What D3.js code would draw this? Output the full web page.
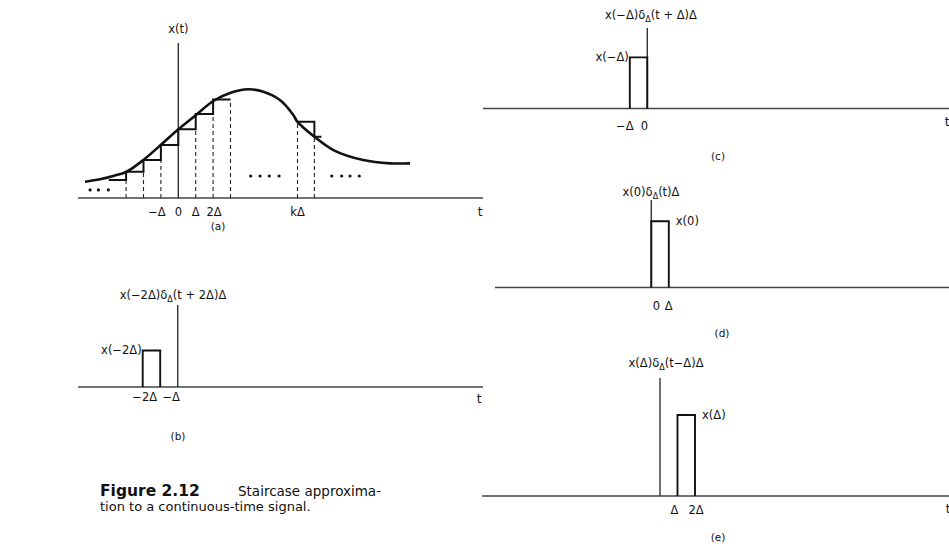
<!DOCTYPE html>
<html>
<head>
<meta charset="utf-8">
<script src="https://cdn.jsdelivr.net/npm/d3@7"></script>
<style>
  body { margin: 0; background: #fff; }
  text { font-family: "DejaVu Sans", "Liberation Sans", Arial, sans-serif; fill: #111; }
</style>
</head>
<body>
<div id="chart"></div>
<script>
// continuous signal x(t), t in units of delta
const curveT = [-5.36, -4.5, -3.74, -2.97, -2.01, -1.01, 0, 1.02, 2.01, 3.01, 4.02, 4.89, 5.84, 6.61, 6.84, 7.82, 8.91, 10.63, 12.17, 13.32];
const curveX = [1.48, 1.70, 2.0, 2.39, 3.45, 4.82, 6.25, 7.55, 8.82, 9.57, 9.88, 9.66, 8.91, 7.55, 6.94, 5.57, 4.36, 3.45, 3.15, 3.15];

// staircase samples x(k delta)
const stepK = [-4, -3, -2, -1, 0, 1, 2];
const stepX = [1.64, 2.39, 3.45, 4.82, 6.25, 7.64, 8.95];
// the step at k delta and the stub after it
const kStepT = [6.85, 7.82];
const kStepX = [6.94, 5.57];

// dots "...."
const dotT = [-5.07, -4.59, -4.02, 4.16, 4.70, 5.23, 5.79, 8.82, 9.39, 9.87, 10.40];
const dotX = [0.73, 0.73, 0.73, 2.0, 2.0, 2.0, 2.0, 2.0, 2.0, 2.0, 2.0];

const tickA = ["\u2212\u0394", "0", "\u0394", "2\u0394", "k\u0394"];
const tickAT = [-1, 0, 1, 2, 6.85];

// single pulses (b)-(e)
const pulseK = [-2, -1, 0, 1];
const pulseNames = ["(b)", "(c)", "(d)", "(e)"];
const pulseTitle = [
  ["x(\u22122\u0394)\u03b4", "\u0394", "(t + 2\u0394)\u0394"],
  ["x(\u2212\u0394)\u03b4", "\u0394", "(t + \u0394)\u0394"],
  ["x(0)\u03b4", "\u0394", "(t)\u0394"],
  ["x(\u0394)\u03b4", "\u0394", "(t\u2212\u0394)\u0394"]
];
const pulseLabel = ["x(\u22122\u0394)", "x(\u2212\u0394)", "x(0)", "x(\u0394)"];
const pulseTicks = [["\u22122\u0394", "\u2212\u0394"], ["\u2212\u0394", "0"], ["0", "\u0394"], ["\u0394", "2\u0394"]];

const W = 949, H = 548;
const DX = 17.4;
const FS = "11.5px";

const svg = d3.select("#chart").append("svg")
  .attr("width", W).attr("height", H)
  .style("background", "#fff");

// ---------- panel (a)
const ox = 178.3, base = 198;
const xA = d3.scaleLinear().domain([0, 1]).range([ox, ox + DX]);
const yA = d3.scaleLinear().domain([0, 1]).range([base, base - 11]);

const gA = svg.append("g");
gA.append("line").attr("x1", 78).attr("x2", 483).attr("y1", base).attr("y2", base)
  .attr("stroke", "#444").attr("stroke-width", 1.4);
gA.append("line").attr("x1", xA(0)).attr("x2", xA(0)).attr("y1", 43).attr("y2", base)
  .attr("stroke", "#333").attr("stroke-width", 1.4);
gA.append("text").attr("x", xA(0)).attr("y", 33).attr("text-anchor", "middle")
  .style("font-size", FS).text("x(t)");
gA.append("text").attr("x", 480).attr("y", 216).attr("text-anchor", "middle")
  .style("font-size", "12px").text("t");

// dashed guides
const dashes = [];
stepK.forEach(function(k, i) {
  if (i > 0 && k !== 0) dashes.push([k, stepX[i - 1]]);
});
dashes.push([3, stepX[stepX.length - 1]]);
dashes.push([kStepT[0], kStepX[0]]);
dashes.push([kStepT[1], kStepX[1]]);
gA.selectAll(".dash").data(dashes).enter().append("line")
  .attr("x1", d => xA(d[0])).attr("x2", d => xA(d[0]))
  .attr("y1", base).attr("y2", d => yA(d[1]))
  .attr("stroke", "#222").attr("stroke-width", 1.1)
  .attr("stroke-dasharray", "4,3");

// staircase
let p = "M" + xA(stepK[0]) + "," + yA(stepX[0]);
stepK.forEach(function(k, i) {
  if (i > 0) p += "L" + xA(k) + "," + yA(stepX[i]);
  p += "L" + xA(k + 1) + "," + yA(stepX[i]);
});
gA.append("path").attr("d", p).attr("fill", "none")
  .attr("stroke", "#111").attr("stroke-width", 2);
const kw = kStepT[1] - kStepT[0];
gA.append("path")
  .attr("d", "M" + xA(kStepT[0]) + "," + yA(kStepX[0]) + "L" + xA(kStepT[1]) + "," + yA(kStepX[0]) +
    "L" + xA(kStepT[1]) + "," + yA(kStepX[1]) + "L" + xA(kStepT[1] + kw * 0.42) + "," + yA(kStepX[1]))
  .attr("fill", "none").attr("stroke", "#111").attr("stroke-width", 2);

// curve
const line = d3.line().x(d => xA(d[0])).y(d => yA(d[1])).curve(d3.curveCatmullRom);
gA.append("path").datum(d3.zip(curveT, curveX)).attr("d", line)
  .attr("fill", "none").attr("stroke", "#111").attr("stroke-width", 2.6);

gA.selectAll(".dot").data(d3.zip(dotT, dotX)).enter().append("circle")
  .attr("cx", d => xA(d[0])).attr("cy", d => yA(d[1])).attr("r", 1.6).attr("fill", "#111");

const tickDx = [-4, 0, 0, 1, 0];
gA.selectAll(".tk").data(tickA).enter().append("text")
  .attr("x", (d, i) => xA(tickAT[i]) + tickDx[i]).attr("y", 216)
  .attr("text-anchor", "middle").style("font-size", FS).text(d => d);
gA.append("text").attr("x", 218).attr("y", 230).attr("text-anchor", "middle")
  .style("font-size", "10.5px").text("(a)");

// ---------- panels (b)-(e)
const layout = [
  {x0: 78, x1: 483, o: 177.7, base: 387, top: 305, title: [173, 299], name: [178, 440], t: [479, 403], lab: "end", tickY: 401},
  {x0: 483, x1: 949, o: 647.3, base: 108.5, top: 28, title: [651, 19], name: [718, 160], t: [947, 126], lab: "end", tickY: 130},
  {x0: 495, x1: 949, o: 651.3, base: 287.5, top: 200, title: [651, 196], name: [722, 337], t: null, lab: "start", tickY: 310},
  {x0: 482, x1: 949, o: 660, base: 496, top: 378, title: [666, 367], name: [718, 541], t: [948, 513], lab: "start", tickY: 514}
];
const pulseTickDx = [[2, 11], [-5, -3], [5, 0], [-3, 1]];

pulseK.forEach(function(k, i) {
  const L = layout[i];
  const xs = d3.scaleLinear().domain([0, 1]).range([L.o, L.o + 17.5]);
  const ys = d3.scaleLinear().domain([0, 1]).range([L.base, L.base - 10.6]);
  const v = stepX[stepK.indexOf(k)];
  const g = svg.append("g");

  g.append("line").attr("x1", L.x0).attr("x2", L.x1).attr("y1", L.base).attr("y2", L.base)
    .attr("stroke", "#444").attr("stroke-width", 1.4);
  g.append("line").attr("x1", xs(0)).attr("x2", xs(0)).attr("y1", L.top).attr("y2", L.base)
    .attr("stroke", "#333").attr("stroke-width", 1.4);
  g.append("path")
    .attr("d", "M" + xs(k) + "," + ys(0) + "L" + xs(k) + "," + ys(v) + "L" + xs(k + 1) + "," + ys(v) + "L" + xs(k + 1) + "," + ys(0))
    .attr("fill", "none").attr("stroke", "#111").attr("stroke-width", 1.9);

  const tt = g.append("text").attr("x", L.title[0]).attr("y", L.title[1])
    .attr("text-anchor", "middle").style("font-size", FS);
  tt.append("tspan").text(pulseTitle[i][0]);
  tt.append("tspan").attr("dy", 3).style("font-size", "8px").text(pulseTitle[i][1]);
  tt.append("tspan").attr("dy", -3).text(pulseTitle[i][2]);

  g.append("text")
    .attr("x", L.lab === "end" ? xs(k) - 1 : xs(k + 1) + 7)
    .attr("y", ys(v) + 4)
    .attr("text-anchor", L.lab).style("font-size", FS).text(pulseLabel[i]);

  g.selectAll(".tk").data(pulseTicks[i]).enter().append("text")
    .attr("x", (d, j) => xs(k + j) + pulseTickDx[i][j]).attr("y", L.tickY)
    .attr("text-anchor", "middle").style("font-size", FS).text(d => d);

  if (L.t) g.append("text").attr("x", L.t[0]).attr("y", L.t[1]).attr("text-anchor", "middle")
    .style("font-size", "12px").text("t");
  g.append("text").attr("x", L.name[0]).attr("y", L.name[1]).attr("text-anchor", "middle")
    .style("font-size", "10.5px").text(pulseNames[i]);
});

// ---------- caption
const cap = svg.append("g");
cap.append("text").attr("x", 100).attr("y", 496)
  .style("font-weight", "bold").style("font-size", "15.5px").text("Figure 2.12");
cap.append("text").attr("x", 238).attr("y", 496).style("font-size", "13.5px")
  .text("Staircase approxima-");
cap.append("text").attr("x", 100).attr("y", 511).style("font-size", "13px")
  .text("tion to a continuous-time signal.");
</script>
</body>
</html>
